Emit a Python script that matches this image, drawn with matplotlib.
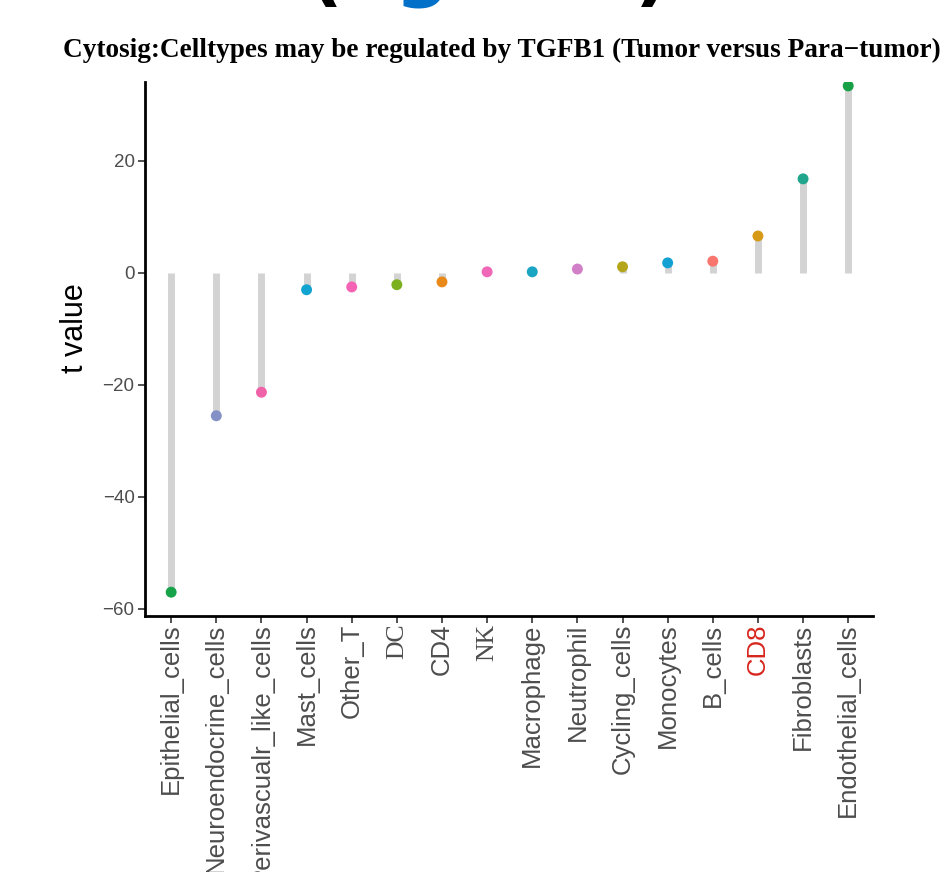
import numpy as np
import matplotlib
matplotlib.use("Agg")
import matplotlib.pyplot as plt

# -----------------------------
# Data
# -----------------------------
celltypes = ["Epithelial_cells", "Neuroendocrine_cells", "Perivascualr_like_cells",
             "Mast_cells", "Other_T", "DC", "CD4", "NK", "Macrophage", "Neutrophil",
             "Cycling_cells", "Monocytes", "B_cells", "CD8", "Fibroblasts",
             "Endothelial_cells"]
t_values = [-57.0, -25.5, -21.3, -3.0, -2.5, -2.1, -1.6, 0.2, 0.2, 0.7,
            1.1, 1.8, 2.1, 6.6, 16.8, 33.4]
point_colors = ["#17A34A", "#8491C6", "#F062A8", "#12A4D0", "#F564B4", "#7CB01E",
                "#E8891A", "#F067B8", "#1AA5C2", "#D17FC7", "#B5A51A", "#13A0D3",
                "#F8766D", "#D69A16", "#1FA68C", "#17A045"]
serif_labels = ["DC", "NK"]
red_labels = ["CD8"]

# -----------------------------
# Figure
# -----------------------------
fig = plt.figure(figsize=(9.47, 8.72), dpi=100)
ax = fig.add_axes([0.1531, 0.2936, 0.9219 - 0.1531, 0.906 - 0.2936])

x = np.arange(len(celltypes))
ax.vlines(x, 0, t_values, color="#D3D3D3", linewidth=5, zorder=1)
ax.scatter(x, t_values, s=62, c=point_colors, zorder=3, linewidths=0)

ax.set_xlim(-0.58, len(celltypes) - 1 + 0.55)
ax.set_ylim(-61.25, 34.1)
ax.set_yticks([-60, -40, -20, 0, 20])
ax.set_yticklabels(["\u221260", "\u221240", "\u221220", "0", "20"],
                   fontsize=13.5, color="#4D4D4D", family="Liberation Sans")
ax.set_xticks(x)
ax.set_xticklabels(celltypes, rotation=90, fontsize=18.5, color="#4D4D4D",
                   family="Liberation Sans")
for lab in ax.get_xticklabels():
    if lab.get_text() in serif_labels:
        lab.set_family("Liberation Serif")
    if lab.get_text() in red_labels:
        lab.set_color("#D7261E")

ax.tick_params(axis="both", length=5, width=1.2, color="#333333")
ax.tick_params(axis="x", pad=0.5)
ax.tick_params(axis="y", pad=2.5)
ax.set_ylabel("t value", fontsize=22, family="Liberation Sans")
ax.yaxis.set_label_coords(-0.0755, 0.539)

for side in ["top", "right"]:
    ax.spines[side].set_visible(False)
for side in ["left", "bottom"]:
    ax.spines[side].set_linewidth(2)
    ax.spines[side].set_color("black")

fig.text(63 / 947, 1 - 57 / 872, "Cytosig:Celltypes may be regulated by TGFB1 (Tumor versus Para\u2212tumor)",
         fontsize=19.6, fontweight="bold", family="Liberation Serif", ha="left", va="baseline")

# cut-off fragments of a larger heading above the panel
fig.text(325 / 947, 1 + 3 / 872, "(", fontsize=55, fontweight="bold", ha="center", va="baseline")
fig.text(422 / 947, 1 + 9 / 872, "g", fontsize=55, fontweight="bold", color="#0070C8",
         ha="center", va="baseline")
fig.text(652 / 947, 1 + 3 / 872, ")", fontsize=55, fontweight="bold", ha="center", va="baseline")

fig.savefig("out.png", dpi=100)
